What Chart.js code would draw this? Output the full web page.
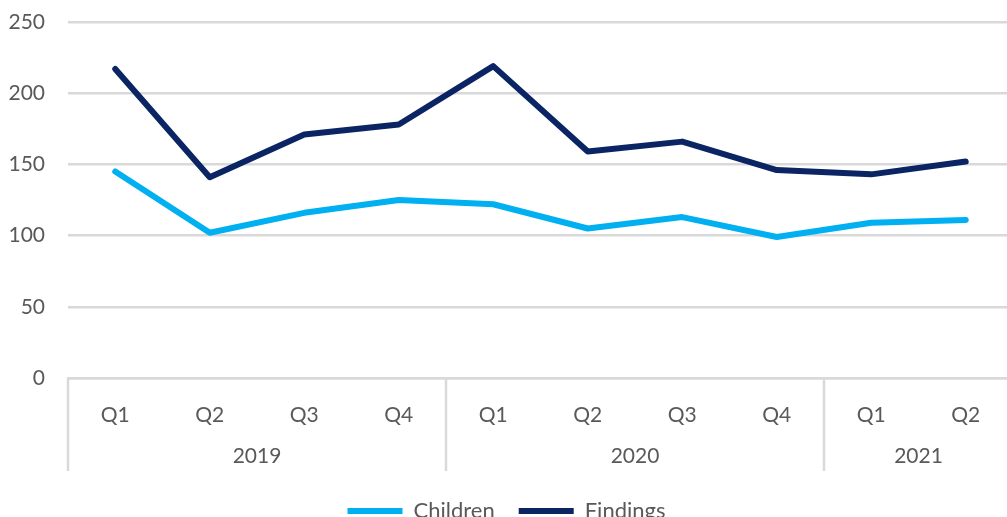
<!DOCTYPE html>
<html>
<head>
<meta charset="utf-8">
<script src="https://cdn.jsdelivr.net/npm/chart.js@4/dist/chart.umd.min.js"></script>
<style>
  html, body { margin: 0; padding: 0; background: #fff; overflow: hidden; }
  #wrap { width: 1014px; height: 532px; }
</style>
</head>
<body>
<div id="wrap"><canvas id="chart"></canvas></div>
<script>
const quarters = ["Q1", "Q2", "Q3", "Q4", "Q1", "Q2", "Q3", "Q4", "Q1", "Q2"];
const years = ["2019", "2020", "2021"];
const yearSizes = [4, 4, 2];
const children = [145, 102, 116, 125, 122, 105, 113, 99, 109, 111];
const findings = [217, 141, 171, 178, 219, 159, 166, 146, 143, 152];

const textColor = "#595959";
const gridColor = "#d9d9d9";
const font = { family: "Lato", size: 21 };

// second row of x labels (years) + group separators
const yearAxis = {
  id: "yearAxis",
  afterDraw(chart) {
    const ctx = chart.ctx;
    const x = chart.scales.x;
    const area = chart.chartArea;
    const step = (area.right - area.left) / quarters.length;
    let start = 0;
    ctx.save();
    ctx.strokeStyle = gridColor;
    ctx.lineWidth = 2.5;
    ctx.fillStyle = textColor;
    ctx.font = font.size + "px " + font.family;
    ctx.textAlign = "center";
    ctx.textBaseline = "middle";
    for (let i = 0; i <= years.length; i++) {
      const edge = x.getPixelForValue(start) - step / 2;
      ctx.beginPath();
      ctx.moveTo(edge, area.bottom);
      ctx.lineTo(edge, area.bottom + 93);
      ctx.stroke();
      if (i < years.length) {
        const end = start + yearSizes[i];
        const mid = (x.getPixelForValue(start) + x.getPixelForValue(end - 1)) / 2;
        ctx.fillText(years[i], mid, area.bottom + 78);
        start = end;
      }
    }
    ctx.restore();
  }
};

new Chart(document.getElementById("chart"), {
  type: "line",
  data: {
    labels: quarters,
    datasets: [
      {
        label: "Children",
        data: children,
        borderColor: "#00b0f0",
        backgroundColor: "#00b0f0",
        borderWidth: 6,
      },
      {
        label: "Findings",
        data: findings,
        borderColor: "#0b2463",
        backgroundColor: "#0b2463",
        borderWidth: 6,
      }
    ]
  },
  options: {
    responsive: true,
    maintainAspectRatio: false,
    animation: false,
    layout: { padding: { top: 22, right: 1, left: 0, bottom: 0 } },
    elements: {
      line: { tension: 0, borderCapStyle: "round", borderJoinStyle: "round" },
      point: { radius: 0 }
    },
    plugins: {
      tooltip: { enabled: false },
      legend: {
        position: "bottom",
        labels: {
          color: textColor,
          font: { family: "Lato", size: 22 },
          usePointStyle: true,
          pointStyle: "line",
          pointStyleWidth: 55,
          padding: 24
        }
      }
    },
    scales: {
      x: {
        offset: true,
        grid: { display: false },
        border: { color: gridColor, width: 2.5 },
        ticks: { color: textColor, font: font, padding: 17, maxRotation: 0, autoSkip: false },
        afterFit(scale) {
          scale.height = 98;
          scale.paddingLeft = 0;
          scale.paddingRight = 0;
        }
      },
      y: {
        min: 0,
        max: 250,
        grid: { color: gridColor, lineWidth: 2.5, drawTicks: false },
        border: { display: false },
        ticks: { stepSize: 50, color: textColor, font: font, padding: 23 },
        afterFit(scale) {
          scale.width = 68;
          scale.paddingTop = 0;
          scale.paddingBottom = 0;
        }
      }
    }
  },
  plugins: [yearAxis]
});
</script>
</body>
</html>
